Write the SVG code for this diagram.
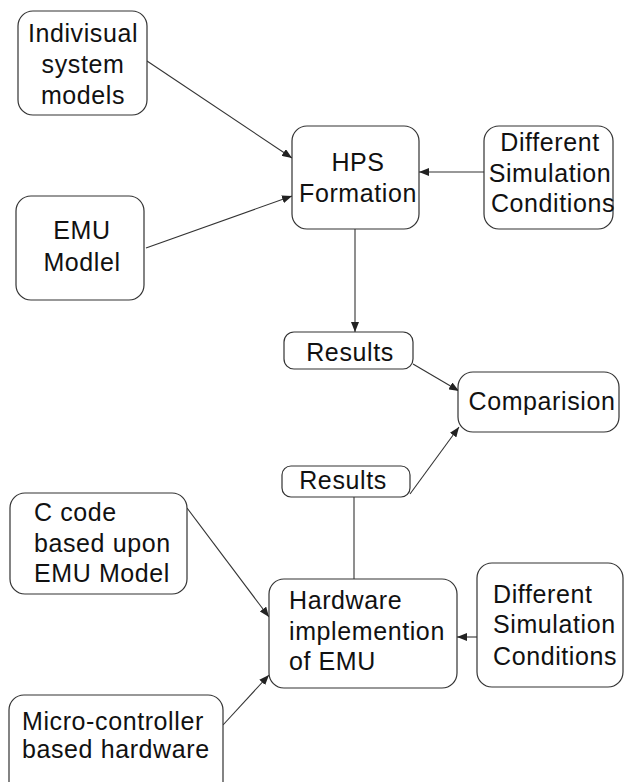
<svg xmlns="http://www.w3.org/2000/svg" width="624" height="782" viewBox="0 0 624 782">
<style>
.box{fill:#fff;stroke:#333;stroke-width:1.2}
.t{font-family:"Liberation Sans",Arial,sans-serif;font-size:25px;fill:#111;letter-spacing:0.6px}
.m{text-anchor:middle}
.c{fill:none;stroke:#333;stroke-width:1.1}
</style>
<defs>
<marker id="ah" viewBox="0 0 10 8" refX="10" refY="4" markerWidth="10" markerHeight="8" markerUnits="userSpaceOnUse" orient="auto">
<path d="M0,0 L10,4 L0,8 z" fill="#222"/>
</marker>
</defs>
<g id="connectors">
<line class="c" x1="147" y1="61" x2="292" y2="158" marker-end="url(#ah)"/>
<line class="c" x1="146" y1="248" x2="292" y2="196" marker-end="url(#ah)"/>
<line class="c" x1="484" y1="172" x2="419" y2="172" marker-end="url(#ah)"/>
<line class="c" x1="355" y1="229" x2="355" y2="332" marker-end="url(#ah)"/>
<line class="c" x1="413" y1="364" x2="459" y2="391" marker-end="url(#ah)"/>
<line class="c" x1="410" y1="494" x2="459" y2="427" marker-end="url(#ah)"/>
<line class="c" x1="354" y1="497" x2="354" y2="579"/>
<line class="c" x1="187" y1="508" x2="269" y2="617" marker-end="url(#ah)"/>
<line class="c" x1="223" y1="725" x2="269" y2="675" marker-end="url(#ah)"/>
<line class="c" x1="477" y1="637" x2="457" y2="637" marker-end="url(#ah)"/>
</g>
<g id="n_indiv">
<rect class="box" x="18" y="11" width="129" height="104" rx="15"/>
<text class="t m" x="83" y="42">Indivisual</text>
<text class="t m" x="83" y="73">system</text>
<text class="t m" x="83" y="104">models</text>
</g>
<g id="n_emu">
<rect class="box" x="16" y="196" width="128" height="104" rx="15"/>
<text class="t m" x="82" y="239">EMU</text>
<text class="t m" x="82" y="271">Modlel</text>
</g>
<g id="n_hps">
<rect class="box" x="292" y="126" width="127" height="103" rx="15"/>
<text class="t m" x="358" y="171">HPS</text>
<text class="t m" x="358" y="202">Formation</text>
</g>
<g id="n_dsc1">
<rect class="box" x="484" y="126" width="129" height="103" rx="15"/>
<text class="t m" x="550" y="151">Different</text>
<text class="t m" x="550" y="182">Simulation</text>
<text class="t m" x="553" y="212">Conditions</text>
</g>
<g id="n_res1">
<rect class="box" x="284" y="332" width="129" height="37" rx="10"/>
<text class="t m" x="350" y="361">Results</text>
</g>
<g id="n_comp">
<rect class="box" x="458" y="372" width="161" height="60" rx="15"/>
<text class="t m" x="542" y="410">Comparision</text>
</g>
<g id="n_res2">
<rect class="box" x="282" y="466" width="128" height="31" rx="9"/>
<text class="t m" x="343" y="489">Results</text>
</g>
<g id="n_ccode">
<rect class="box" x="10" y="493" width="177" height="101" rx="15"/>
<text class="t" x="34" y="521">C code</text>
<text class="t" x="34" y="552">based upon</text>
<text class="t" x="34" y="582">EMU Model</text>
</g>
<g id="n_hw">
<rect class="box" x="269" y="579" width="188" height="109" rx="15"/>
<text class="t" x="289" y="609">Hardware</text>
<text class="t" x="289" y="640">implemention</text>
<text class="t" x="289" y="670">of EMU</text>
</g>
<g id="n_dsc2">
<rect class="box" x="477" y="563" width="146" height="124" rx="15"/>
<text class="t" x="493" y="603">Different</text>
<text class="t" x="493" y="633">Simulation</text>
<text class="t" x="493" y="665">Conditions</text>
</g>
<g id="n_micro">
<rect class="box" x="9" y="695" width="214" height="110" rx="15"/>
<text class="t" x="22" y="730">Micro-controller</text>
<text class="t" x="22" y="758">based hardware</text>
</g>
</svg>
